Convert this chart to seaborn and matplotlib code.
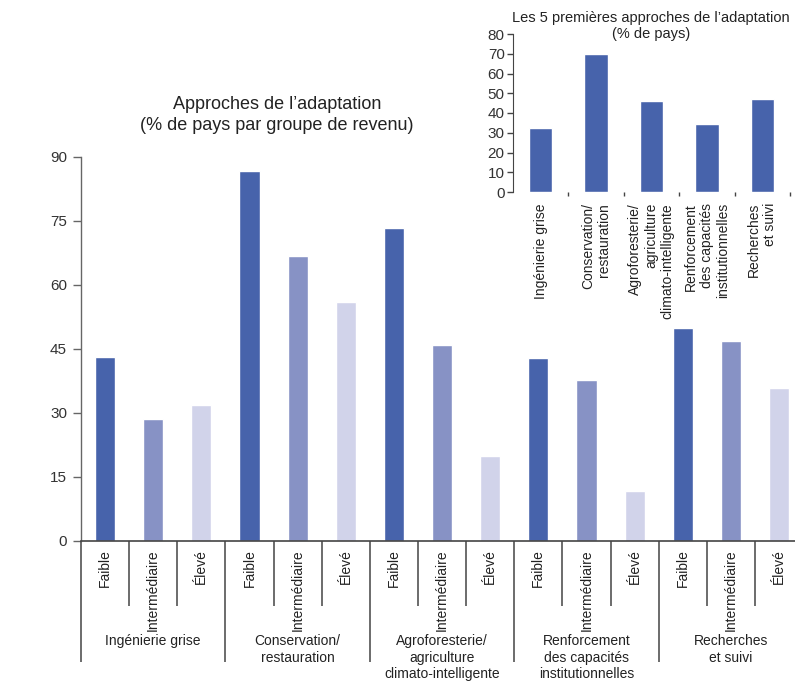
import pandas as pd
import matplotlib.pyplot as plt
import matplotlib.transforms as mtransforms
import seaborn as sns

approches = ['Ingénierie grise', 'Conservation/\nrestauration',
             'Agroforesterie/\nagriculture\nclimato-intelligente',
             'Renforcement\ndes capacités\ninstitutionnelles', 'Recherches\net suivi']
niveaux = ['Faible', 'Intermédiaire', 'Élevé']
faible = [43.1, 86.7, 73.4, 42.9, 49.9]
intermediaire = [28.6, 66.8, 45.9, 37.7, 46.9]
eleve = [31.9, 56.0, 19.9, 11.7, 35.9]
top5 = [32.4, 70.0, 46.1, 34.4, 47.1]

couleurs = {'Faible': '#4763AB', 'Intermédiaire': '#8792C5', 'Élevé': '#D1D3EA'}

rows = []
for i, a in enumerate(approches):
    for j, (niv, vals) in enumerate(zip(niveaux, [faible, intermediaire, eleve])):
        rows.append({'slot': 3 * i + j, 'approche': a, 'niveau': niv, 'pct': vals[i]})
df = pd.DataFrame(rows)

sns.set_style('white')
plt.rcParams['font.family'] = ['Liberation Sans', 'DejaVu Sans']
W, H = 795, 698
fig = plt.figure(figsize=(W / 100, H / 100), dpi=100)

# main chart
ax = fig.add_axes([81 / W, (H - 541) / H, (W - 81) / W, (541 - 157) / H])
sns.barplot(data=df, x='slot', y='pct', hue='niveau', palette=couleurs,
            dodge=False, width=0.42, saturation=1, legend=False, ax=ax)
ax.set_xlim(-0.5, -0.5 + (W - 81) / 48.14)
ax.set_ylim(0, 90)
ax.set_yticks(range(0, 91, 15))
ax.tick_params(axis='y', left=True, length=6, width=1, color='#666666',
               labelsize=11, labelcolor='#333333', pad=4)
ax.set_xticks([])
ax.set_xlabel('')
ax.set_ylabel('')
for s in ['top', 'right']:
    ax.spines[s].set_visible(False)
ax.spines['left'].set_color('#666666')
ax.spines['bottom'].set_color('#444444')
ax.spines['left'].set_linewidth(1)
ax.spines['bottom'].set_linewidth(1.2)

trans = mtransforms.blended_transform_factory(ax.transData, ax.transAxes)
for k in range(16):
    x = k - 0.5
    if x > ax.get_xlim()[1]:
        continue
    long_line = (k % 3 == 0)
    y_end = -(662 - 541) / 384 if long_line else -(606 - 541) / 384
    ax.plot([x, x], [0, y_end], transform=trans, color='#444444', lw=1.1,
            clip_on=False, solid_capstyle='butt')
for _, r in df.iterrows():
    ax.text(r['slot'], -0.022, r['niveau'], transform=trans, rotation=90,
            ha='center', va='top', fontsize=10, color='#222222')
for i, a in enumerate(approches):
    ax.text(3 * i + 1, -0.242, a, transform=trans, ha='center', va='top',
            fontsize=10, color='#222222', linespacing=1.25)

fig.text(277 / W, 1 - 96 / H, 'Approches de l\u2019adaptation\n(% de pays par groupe de revenu)',
         ha='center', va='top', fontsize=13, color='#222222', linespacing=1.3)

# inset
ax2 = fig.add_axes([513 / W, (H - 192) / H, (790 - 513) / W, (192 - 34) / H])
sns.barplot(x=list(range(len(top5))), y=top5, color=couleurs['Faible'],
            width=0.42, saturation=1, ax=ax2)
ax2.set_xlim(-0.5, 4.5)
ax2.set_ylim(0, 80)
ax2.set_yticks(range(0, 81, 10))
ax2.tick_params(axis='y', left=True, length=4, width=1, color='#444444',
                labelsize=11, labelcolor='#333333', pad=2)
ax2.set_xticks(range(len(approches)))
ax2.set_xticklabels(approches, rotation=90, fontsize=10, color='#222222',
                    linespacing=1.2)
for lab in ax2.get_xticklabels():
    lab.set_multialignment('right')
ax2.tick_params(axis='x', which='major', length=0, pad=8)
ax2.set_xticks([k + 0.5 for k in range(5)], minor=True)
ax2.tick_params(axis='x', which='minor', bottom=True, length=3, width=1, color='#444444')
for s in ['top', 'right', 'bottom']:
    ax2.spines[s].set_visible(False)
ax2.spines['left'].set_color('#444444')
ax2.set_xlabel('')
ax2.set_ylabel('')

fig.text(651 / W, 1 - 11 / H, 'Les 5 premières approches de l\u2019adaptation\n(% de pays)',
         ha='center', va='top', fontsize=10.5, color='#222222', linespacing=1.15)

fig.savefig('out.png', dpi=100)
